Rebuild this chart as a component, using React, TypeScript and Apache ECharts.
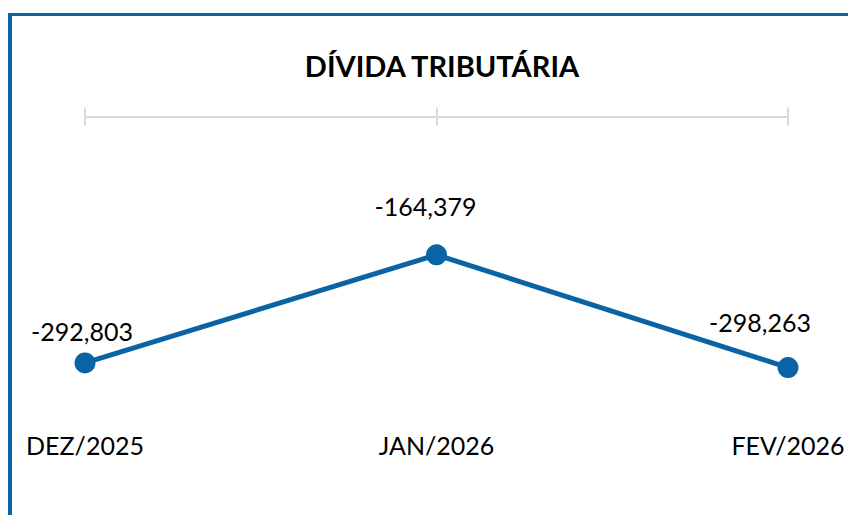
import React, { useEffect, useRef } from "react";
import * as echarts from "echarts";

const categories = ["DEZ/2025", "JAN/2026", "FEV/2026"];
const values = [-292803, -164379, -298263];
const title = "DÍVIDA TRIBUTÁRIA";

const BLUE = "#0A64A4";
const FONT = "Lato, 'Open Sans', sans-serif";

export default function App() {
  const ref = useRef<HTMLDivElement>(null);
  useEffect(() => {
    if (!ref.current) return;
    const chart = echarts.init(ref.current, null, { renderer: "svg" });
    const labelOffsets = [
      [-3, -4],
      [-11, -21],
      [-28, -18],
    ];
    const fmt = (v: number) =>
      v < 0 ? "-" + Math.abs(v).toLocaleString("en-US") : v.toLocaleString("en-US");
    chart.setOption({
      animation: false,
      backgroundColor: "#ffffff",
      title: {
        text: title,
        left: 437,
        top: 46,
        textAlign: "center",
        textStyle: { fontFamily: FONT, fontWeight: "bold", fontSize: 29, color: "#000" },
      },
      grid: { left: 85, right: 60, top: 116.5, bottom: 95.5 },
      xAxis: [
        {
          type: "category",
          data: categories,
          position: "top",
          boundaryGap: false,
          axisLine: { show: true, lineStyle: { color: "#d9d9d9", width: 2 } },
          axisTick: { show: true, length: 9, interval: 0, lineStyle: { color: "#d9d9d9", width: 2 } },
          axisLabel: { show: false },
          splitLine: { show: false },
        },
        {
          type: "category",
          data: categories,
          position: "top",
          offset: 0,
          boundaryGap: false,
          axisLine: { show: false },
          axisTick: { show: true, inside: true, length: 9, interval: 0, lineStyle: { color: "#d9d9d9", width: 2 } },
          axisLabel: { show: false },
        },
        {
          type: "category",
          data: categories,
          position: "bottom",
          boundaryGap: false,
          axisLine: { show: false },
          axisTick: { show: false },
          axisLabel: {
            show: true,
            interval: 0,
            margin: 13,
            fontFamily: FONT,
            fontSize: 25,
            color: "#000",
          },
        },
      ],
      yAxis: {
        type: "value",
        min: -360000,
        max: 0,
        show: false,
        splitLine: { show: false },
      },
      graphic: [
        { type: "rect", shape: { x: 8, y: 13, width: 4, height: 502 }, style: { fill: BLUE } },
        { type: "rect", shape: { x: 8, y: 13, width: 840, height: 3 }, style: { fill: BLUE } },
      ],
      series: [
        {
          type: "line",
          xAxisIndex: 0,
          data: values.map((v, i) => ({
            value: v,
            label: { offset: labelOffsets[i] },
          })),
          symbol: "circle",
          symbolSize: 21,
          lineStyle: { color: BLUE, width: 5 },
          itemStyle: { color: BLUE },
          label: {
            show: true,
            position: "top",
            distance: 5,
            fontFamily: FONT,
            fontSize: 25,
            color: "#000",
            formatter: (p: any) => fmt(p.value),
          },
        },
      ],
    });
    return () => chart.dispose();
  }, []);
  return <div ref={ref} style={{ width: 848, height: 515, position: "absolute", left: 0, top: 0 }} />;
}
